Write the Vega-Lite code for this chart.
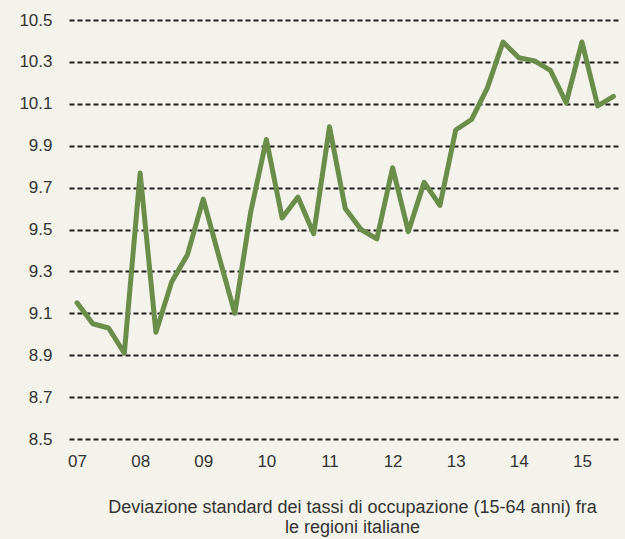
{
  "$schema": "https://vega.github.io/schema/vega-lite/v6.json",
  "width": 551,
  "height": 419,
  "autosize": {"type": "none"},
  "padding": {"left": 69, "top": 20, "right": 5, "bottom": 100},
  "background": "#f4f3eb",
  "config": {"view": {"stroke": null}, "font": "Liberation Sans"},
  "data": {"values": [
    {"anno": 2007.00, "dev": 9.15},
    {"anno": 2007.25, "dev": 9.05},
    {"anno": 2007.50, "dev": 9.03},
    {"anno": 2007.75, "dev": 8.91},
    {"anno": 2008.00, "dev": 9.77},
    {"anno": 2008.25, "dev": 9.01},
    {"anno": 2008.50, "dev": 9.25},
    {"anno": 2008.75, "dev": 9.38},
    {"anno": 2009.00, "dev": 9.645},
    {"anno": 2009.25, "dev": 9.37},
    {"anno": 2009.50, "dev": 9.10},
    {"anno": 2009.75, "dev": 9.58},
    {"anno": 2010.00, "dev": 9.93},
    {"anno": 2010.25, "dev": 9.555},
    {"anno": 2010.50, "dev": 9.655},
    {"anno": 2010.75, "dev": 9.48},
    {"anno": 2011.00, "dev": 9.99},
    {"anno": 2011.25, "dev": 9.60},
    {"anno": 2011.50, "dev": 9.50},
    {"anno": 2011.75, "dev": 9.455},
    {"anno": 2012.00, "dev": 9.795},
    {"anno": 2012.25, "dev": 9.49},
    {"anno": 2012.50, "dev": 9.725},
    {"anno": 2012.75, "dev": 9.615},
    {"anno": 2013.00, "dev": 9.975},
    {"anno": 2013.25, "dev": 10.025},
    {"anno": 2013.50, "dev": 10.175},
    {"anno": 2013.75, "dev": 10.395},
    {"anno": 2014.00, "dev": 10.32},
    {"anno": 2014.25, "dev": 10.305},
    {"anno": 2014.50, "dev": 10.26},
    {"anno": 2014.75, "dev": 10.105},
    {"anno": 2015.00, "dev": 10.395},
    {"anno": 2015.25, "dev": 10.09},
    {"anno": 2015.50, "dev": 10.135}
  ]},
  "mark": {"type": "line", "color": "#6a8d4a", "strokeWidth": 5, "strokeCap": "round", "strokeJoin": "round"},
  "encoding": {
    "x": {
      "field": "anno", "type": "quantitative",
      "scale": {"domain": [2006.873, 2015.603], "nice": false, "zero": false},
      "axis": {
        "values": [2007, 2008, 2009, 2010, 2011, 2012, 2013, 2014, 2015],
        "labelExpr": "slice(toString(datum.value), 2)",
        "grid": false, "domain": false, "ticks": false,
        "labelFontSize": 17, "labelColor": "#333333", "labelPadding": 14,
        "labelFlush": false,
        "title": ["Deviazione standard dei tassi di occupazione (15-64 anni) fra", "le regioni italiane"],
        "titleFontSize": 18, "titleFontWeight": "normal", "titleColor": "#333333",
        "titlePadding": 29, "titleLineHeight": 20, "titleX": 283
      }
    },
    "y": {
      "field": "dev", "type": "quantitative",
      "scale": {"domain": [8.5, 10.5], "nice": false, "zero": false},
      "axis": {
        "values": [8.5, 8.7, 8.9, 9.1, 9.3, 9.5, 9.7, 9.9, 10.1, 10.3, 10.5],
        "format": ".1f",
        "grid": true, "gridDash": [5, 3], "gridColor": "#1e1e1e", "gridWidth": 2, "gridOpacity": 1,
        "domain": false, "ticks": false,
        "labelFontSize": 17, "labelColor": "#333333", "labelPadding": 17,
        "title": null
      }
    }
  }
}
